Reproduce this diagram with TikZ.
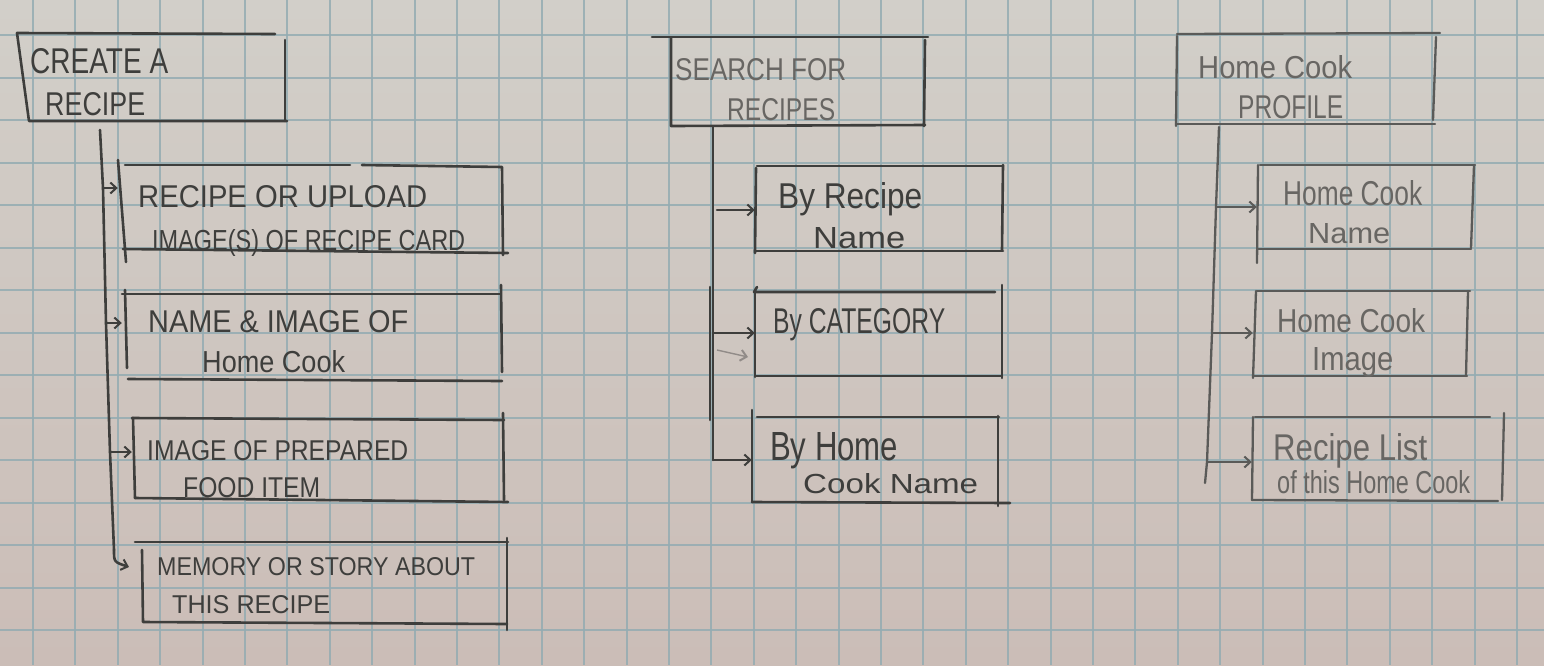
\documentclass[tikz,border=0pt]{standalone}
\usepackage{fontspec}
\setmainfont{Liberation Sans}
\usetikzlibrary{arrows.meta,fit,calc}

\definecolor{papertop}{RGB}{210,207,201}
\definecolor{paperbot}{RGB}{203,189,183}
\definecolor{gridc}{RGB}{148,172,178}
\definecolor{lead}{RGB}{62,62,60}
\definecolor{leadsoft}{RGB}{90,90,88}
\definecolor{inkpale}{RGB}{104,102,99}
\definecolor{ghost}{RGB}{145,139,136}

% fit one handwritten line to a given width and letter height
\newcommand{\hand}[3]{\resizebox{#1pt}{#2pt}{#3}}

\tikzset{
  pencil/.style={draw=lead, line width=2.6pt, line cap=round, line join=round},
  softpencil/.style={draw=leadsoft, line width=2.3pt, line cap=round, line join=round},
  arr/.style={-{Straight Barb[length=6pt,width=11pt,line width=2pt]}},
  area/.style={inner sep=0pt, draw=none},
  hw/.style={inner sep=0pt, anchor=base west, text=lead},
  hwpale/.style={hw, text=inkpale},
}

\begin{document}
\begin{tikzpicture}[x=1pt,y=-1pt]
\useasboundingbox (0,0) rectangle (1544,665);

% graph paper
\shade[top color=papertop, bottom color=paperbot] (0,0) rectangle (1544,665);
\foreach \i in {0,...,37}
  \draw[gridc, line width=2pt, opacity=0.85] ({-9.4+42.4*\i},0) -- ({-9.4+42.4*\i},665);
\foreach \j in {0,...,16}
  \draw[gridc, line width=2pt, opacity=0.85] (0,{-7.5+42.5*\j}) -- (1544,{-7.5+42.5*\j});

% ---------------- column 1: create a recipe ----------------
\node[area, fit={(17,33) (287,122)}] (create) {};
\node[area, fit={(118,160) (508,262)}] (upload) {};
\node[area, fit={(122,285) (502,381)}] (cook) {};
\node[area, fit={(132,413) (508,502)}] (food) {};
\node[area, fit={(135,538) (508,630)}] (memory) {};

\draw[pencil] (17,33) -- (275,34);
\draw[pencil] (17,33) -- (29,121) -- (287,121);
\draw[pencil] (285,40) -- (285,121);
\node[hw] (createA) at (30,73) {\hand{138}{25}{CREATE A}};
\node[hw] (createB) at (45,115) {\hand{100}{23}{RECIPE}};

\draw[pencil] (125,165) -- (350,165);
\draw[pencil] (362,165) -- (502,167) -- (503,255);
\draw[pencil] (118,160) -- (126,262);
\draw[pencil] (123,249) -- (508,253);
\node[hw] (uploadA) at (138,207) {\hand{289}{22}{RECIPE OR UPLOAD}};
\node[hw] (uploadB) at (152,250) {\hand{313}{21}{IMAGE(S) OF RECIPE CARD}};

\draw[pencil] (122,294) -- (500,294);
\draw[pencil] (125,290) -- (127,368);
\draw[pencil] (501,285) -- (502,372);
\draw[pencil] (128,379) -- (502,381);
\node[hw] (cookA) at (148,332) {\hand{260}{22}{NAME \& IMAGE OF}};
\node[hw] (cookB) at (202,372) {\hand{143}{22}{Home Cook}};

\draw[pencil] (132,418) -- (504,420);
\draw[pencil] (133,418) -- (135,498);
\draw[pencil] (503,413) -- (504,500);
\draw[pencil] (135,498) -- (508,502);
\node[hw] (foodA) at (147,460) {\hand{261}{20}{IMAGE OF PREPARED}};
\node[hw] (foodB) at (183,497) {\hand{137}{20}{FOOD ITEM}};

\draw[pencil] (135,542) -- (508,542);
\draw[pencil] (142,550) -- (143,622) -- (507,624);
\draw[pencil] (507,538) -- (507,630);
\node[hw] (memoryA) at (157,575) {\hand{318}{18}{MEMORY OR STORY ABOUT}};
\node[hw] (memoryB) at (172,613) {\hand{158}{18}{THIS RECIPE}};

% branch line with its arrows
\coordinate (L0) at (100,130);
\coordinate (L1) at (103,188);
\coordinate (L2) at (106,323);
\coordinate (L3) at (110,452);
\coordinate (L4) at (114,550);
\coordinate (L5) at (129,567);
\draw[pencil] (L0) -- (L1) -- (L2) -- (L3) -- (L4);
\draw[pencil, arr] (L4) .. controls (114,562) .. (L5);
\draw[pencil, arr] (L1) -- (L1 -| upload.west);
\draw[pencil, arr] (L2) -- (L2 -| cook.west);
\draw[pencil, arr] (L3) -- (L3 -| food.west);

% ---------------- column 2: search for recipes ----------------
\node[area, fit={(652,37) (928,126)}] (search) {};
\node[area, fit={(755,165) (1003,253)}] (byname) {};
\node[area, fit={(755,285) (1002,378)}] (bycat) {};
\node[area, fit={(752,410) (1010,506)}] (bycook) {};

\draw[pencil] (652,37) -- (928,37);
\draw[pencil] (671,38) -- (671,126) -- (925,125);
\draw[pencil] (925,40) -- (924,126);
\node[hwpale] (searchA) at (675,80) {\hand{171}{22}{SEARCH FOR}};
\node[hwpale] (searchB) at (727,120) {\hand{108}{22}{RECIPES}};

\draw[pencil] (757,166) -- (1003,166);
\draw[pencil] (756,168) -- (755,253);
\draw[pencil] (1003,165) -- (1002,250);
\draw[pencil] (755,251) -- (1003,251);
\node[hw] (bynameA) at (778,208) {\hand{144}{26}{By Recipe}};
\node[hw] (bynameB) at (813,248) {\hand{92}{21}{Name}};

\draw[pencil] (757,287) -- (754,292) -- (995,292);
\draw[pencil] (755,290) -- (755,377);
\draw[pencil] (1002,285) -- (1002,378);
\draw[pencil] (755,376) -- (1002,376);
\node[hw] (bycatA) at (773,333) {\hand{172}{25}{By CATEGORY}};

\draw[pencil] (757,417) -- (999,417);
\draw[pencil] (752,410) -- (752,502);
\draw[pencil] (998,416) -- (998,506);
\draw[pencil] (752,502) -- (1010,503);
\node[hw] (bycookA) at (770,460) {\hand{128}{28}{By Home}};
\node[hw] (bycookB) at (803,493) {\hand{175}{20}{Cook Name}};

\coordinate (M0) at (713,127);
\coordinate (M1) at (717,210);
\coordinate (M2) at (713,333);
\coordinate (M3) at (713,460);
\draw[pencil] (M0) -- (M3);
\draw[pencil] (710,287) -- (710,420);
\draw[pencil, arr] (M3) -- (M3 -| bycook.west);
\draw[pencil, arr] (M1) -- (M1 -| byname.west);
\draw[pencil, arr] (M2) -- (M2 -| bycat.west);
\draw[ghost, line width=1.4pt, arr] (717,350) -- (748,357);

% ---------------- column 3: home cook profile ----------------
\node[area, fit={(1176,33) (1440,126)}] (profile) {};
\node[area, fit={(1257,165) (1475,263)}] (cookname) {};
\node[area, fit={(1253,291) (1470,378)}] (cookimage) {};
\node[area, fit={(1252,413) (1504,501)}] (recipelist) {};

\draw[softpencil] (1177,34) -- (1440,33);
\draw[softpencil] (1177,36) -- (1176,126);
\draw[softpencil] (1436,37) -- (1433,120);
\draw[softpencil] (1176,124) -- (1435,124);
\node[hwpale] (profileA) at (1198,78) {\hand{154}{23}{Home Cook}};
\node[hwpale] (profileB) at (1238,118) {\hand{105}{23}{PROFILE}};

\draw[softpencil] (1260,165) -- (1475,165);
\draw[softpencil] (1258,165) -- (1257,263);
\draw[softpencil] (1474,165) -- (1471,248);
\draw[softpencil] (1257,249) -- (1471,249);
\node[hwpale] (cooknameA) at (1283,205) {\hand{139}{25}{Home Cook}};
\node[hwpale] (cooknameB) at (1308,243) {\hand{82}{20}{Name}};

\draw[softpencil] (1257,291) -- (1470,291);
\draw[softpencil] (1256,291) -- (1253,378);
\draw[softpencil] (1468,291) -- (1466,376);
\draw[softpencil] (1253,376) -- (1467,376);
\node[hwpale] (cookimageA) at (1277,332) {\hand{148}{24}{Home Cook}};
\node[hwpale] (cookimageB) at (1312,370) {\hand{81}{23}{Image}};

\draw[softpencil] (1255,417) -- (1490,417);
\draw[softpencil] (1253,417) -- (1252,500);
\draw[softpencil] (1504,413) -- (1502,500);
\draw[softpencil] (1252,500) -- (1498,501);
\node[hwpale] (recipelistA) at (1273,460) {\hand{154}{27}{Recipe List}};
\node[hwpale] (recipelistB) at (1277,493) {\hand{193}{23}{of this Home Cook}};

\coordinate (R0) at (1219,127);
\coordinate (R1) at (1216,207);
\coordinate (R2) at (1212,333);
\coordinate (R3) at (1207,462);
\coordinate (R4) at (1205,483);
\draw[softpencil] (R0) -- (R1) -- (R2) -- (R3) -- (R4);
\draw[softpencil, arr] (R1) -- (R1 -| cookname.west);
\draw[softpencil, arr] (R2) -- (R2 -| cookimage.west);
\draw[softpencil, arr] (R3) -- (R3 -| recipelist.west);

\end{tikzpicture}
\end{document}
